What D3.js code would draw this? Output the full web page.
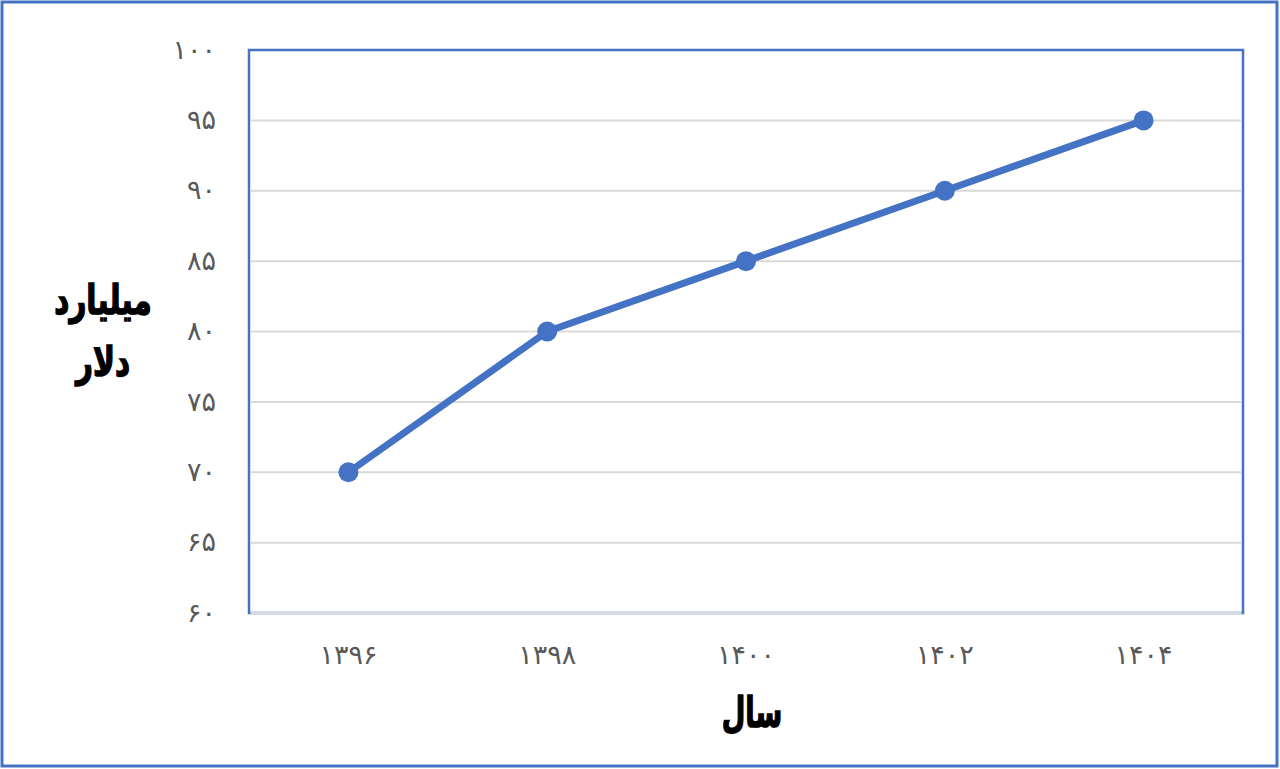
<!DOCTYPE html>
<html><head><meta charset="utf-8">
<script src="https://cdn.jsdelivr.net/npm/d3@7/dist/d3.min.js"></script>
<style>body{margin:0;background:#fff}svg{display:block}</style>
</head><body>
<svg id="c" width="1280" height="769"></svg>
<script>
const categories = ["۱۳۹۶","۱۳۹۸","۱۴۰۰","۱۴۰۲","۱۴۰۴"];
const values = [70, 80, 85, 90, 95];
const yTicks = [60, 65, 70, 75, 80, 85, 90, 95, 100];
const yTickLabels = ["۶۰","۶۵","۷۰","۷۵","۸۰","۸۵","۹۰","۹۵","۱۰۰"];
const yTitle = ["میلیارد","دلار"];
const xTitle = "سال";

const svg = d3.select("#c");
const blue = "#4472C4";
const L = 249, R = 1243, T = 50, B = 613;

svg.append("rect").attr("x",2).attr("y",2).attr("width",1275).attr("height",764)
  .attr("fill","#fff").attr("stroke",blue).attr("stroke-width",3);

const x = d3.scaleBand().domain(categories).range([L, R]).padding(0);
const y = d3.scaleLinear().domain([60, 100]).range([B, T]);

svg.append("rect").attr("x",L).attr("y",T).attr("width",R-L).attr("height",B-T)
  .attr("fill","none").attr("stroke",blue).attr("stroke-width",2.5);

svg.append("g").selectAll("line").data(yTicks.filter(d=>d<100)).join("line")
  .attr("x1",L+1.5).attr("x2",R-1.5).attr("y1",d=>y(d)).attr("y2",d=>y(d))
  .attr("stroke","#d9d9d9").attr("stroke-width",2);

svg.append("g").selectAll("text").data(yTicks).join("text")
  .attr("x",216).attr("y",d=>y(d)).attr("dy","0.32em").attr("text-anchor","end")
  .attr("font-family","DejaVu Sans").attr("font-size",27).attr("fill","#595959")
  .text((d,i)=>yTickLabels[i]);

svg.append("g").selectAll("text").data(categories).join("text")
  .attr("x",d=>x(d)+x.bandwidth()/2).attr("y",655).attr("dy","0.32em").attr("text-anchor","middle")
  .attr("font-family","DejaVu Sans").attr("font-size",27).attr("fill","#595959")
  .text(d=>d);

const line = d3.line().x((d,i)=>x(categories[i])+x.bandwidth()/2).y(d=>y(d));
svg.append("path").datum(values).attr("d",line).attr("fill","none")
  .attr("stroke",blue).attr("stroke-width",7).attr("stroke-linejoin","round");
svg.append("g").selectAll("circle").data(values).join("circle")
  .attr("cx",(d,i)=>x(categories[i])+x.bandwidth()/2).attr("cy",d=>y(d)).attr("r",10)
  .attr("fill",blue);

svg.append("g").selectAll("text").data(yTitle).join("text")
  .attr("transform",(d,i)=>`translate(103,${300+i*62}) scale(0.95,1.3)`)
  .attr("dy","0.35em").attr("text-anchor","middle")
  .attr("font-family","DejaVu Sans").attr("font-weight","bold").attr("font-size",31).attr("fill","#000")
  .attr("stroke","#000").attr("stroke-width",1.2)
  .attr("direction","rtl")
  .text(d=>d);
svg.append("text").attr("transform","translate(752,712) scale(0.85,1.3)")
  .attr("dy","0.35em").attr("text-anchor","middle")
  .attr("font-family","DejaVu Sans").attr("font-weight","bold").attr("font-size",32).attr("fill","#000")
  .attr("stroke","#000").attr("stroke-width",1.2)
  .attr("direction","rtl")
  .text(xTitle);
</script>
</body></html>
